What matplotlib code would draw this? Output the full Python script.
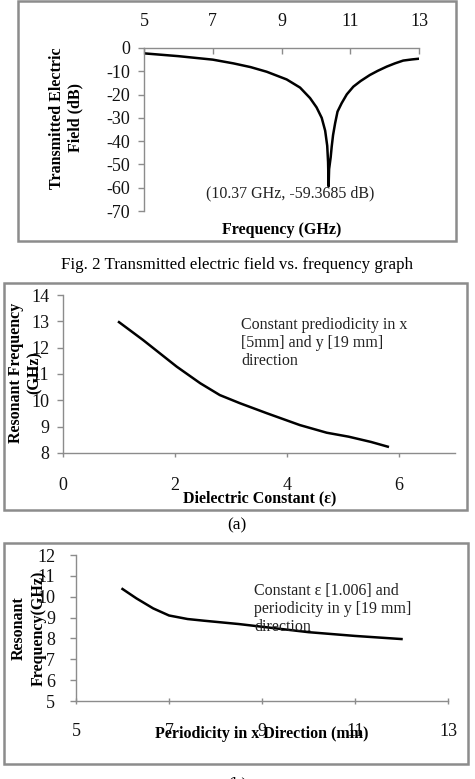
import matplotlib
matplotlib.use("Agg")
import matplotlib.pyplot as plt
from matplotlib.patches import Rectangle

plt.rcParams['font.family'] = ['Liberation Serif', 'DejaVu Serif']
plt.rcParams['axes.unicode_minus'] = False

W, H = 475, 779

# Fig. 2 - transmitted field vs frequency
freq_ghz = [5.0, 5.5, 6.0, 6.6, 7.0, 7.6, 8.1, 8.57, 9.15, 9.54, 9.83, 10.02, 10.17,
            10.27, 10.33, 10.355, 10.37, 10.385, 10.43, 10.46, 10.5, 10.56, 10.63,
            10.75, 10.9, 11.09, 11.3, 11.57, 11.8, 12.06, 12.3, 12.54, 12.8, 13.0]
field_db = [-2.3, -2.9, -3.5, -4.4, -5.0, -6.6, -8.2, -10.2, -13.5, -17.0, -21.5, -25.5, -30.0,
            -35.5, -42.0, -49.0, -59.3685, -52.0, -47.0, -42.4, -37.4, -32.3, -27.3,
            -23.7, -19.9, -16.6, -14.2, -11.6, -9.8, -8.0, -6.6, -5.4, -4.9, -4.6]

# (a) resonant frequency vs dielectric constant
eps = [1.0, 1.43, 2.03, 2.45, 2.8, 3.16, 3.64, 4.23, 4.71, 5.1, 5.5, 5.8]
res_a = [12.97, 12.29, 11.28, 10.65, 10.2, 9.89, 9.51, 9.06, 8.77, 8.62, 8.42, 8.24]

# (b) resonant frequency vs periodicity in x
per_x = [6.0, 6.3, 6.66, 7.0, 7.4, 7.75, 8.5, 9.0, 10.0, 11.0, 12.0]
res_b = [10.37, 9.92, 9.44, 9.1, 8.93, 8.85, 8.69, 8.56, 8.3, 8.12, 7.97]

grey = '#8c8c8c'
fig = plt.figure(figsize=(W / 100, H / 100), dpi=100)
fig.patch.set_facecolor('white')


def px_axes(x0, y0, x1, y1):
    return fig.add_axes([x0 / W, 1 - y1 / H, (x1 - x0) / W, (y1 - y0) / H])


def ftext(x, y, s, **kw):
    fig.text(x / W, 1 - y / H, s, **kw)


def frame(x0, y0, x1, y1):
    fig.add_artist(Rectangle((x0 / W, 1 - y1 / H), (x1 - x0) / W, (y1 - y0) / H,
                             transform=fig.transFigure, fill=False,
                             edgecolor=grey, linewidth=1.8))


def style(ax, xside):
    for s in ['top', 'bottom', 'right', 'left']:
        ax.spines[s].set_visible(False)
    ax.spines['left'].set_visible(True)
    ax.spines[xside].set_visible(True)
    for s in ['left', xside]:
        ax.spines[s].set_color(grey)
        ax.spines[s].set_linewidth(1.0)
    ax.tick_params(colors=grey, labelcolor='#111111', labelsize=13, width=1.0)
    ax.set_facecolor('none')


# ---- Fig. 2 ----
frame(18, 1, 456, 241)
ax1 = px_axes(144, 48, 419, 211)
ax1.plot(freq_ghz, field_db, color='black', lw=1.8)
ax1.set_xlim(5, 13)
ax1.set_ylim(-70, 0)
ax1.set_xticks([5, 7, 9, 11, 13])
ax1.set_yticks(range(-70, 1, 10))
style(ax1, 'top')
ax1.xaxis.tick_top()
ax1.tick_params(axis='x', direction='in', length=4, pad=13)
ax1.tick_params(axis='y', direction='out', length=4, pad=6)
# label sits a bit left of and below the dip, as in the source figure
ax1.text(9.25, -62.3, '(10.37 GHz, -59.3685 dB)', ha='center', va='center',
         fontsize=11.5, color='#222222')
ftext(282, 230, 'Frequency (GHz)', ha='center', va='center', fontsize=11.5, fontweight='bold')
ftext(66, 118, 'Transmitted Electric\nField (dB)', ha='center', va='center', rotation=90,
      fontsize=11.5, fontweight='bold', linespacing=1.15)
ftext(237, 265, 'Fig. 2 Transmitted electric field vs. frequency graph', ha='center',
      va='center', fontsize=12.2)

# ---- (a) ----
frame(4, 283, 467, 510)
ax2 = px_axes(63, 295, 455, 453)
ax2.plot(eps, res_a, color='black', lw=1.8)
ax2.set_xlim(0, 7)
ax2.set_ylim(8, 14)
ax2.set_xticks([0, 2, 4, 6])
ax2.set_yticks(range(8, 15))
style(ax2, 'bottom')
ax2.tick_params(axis='x', direction='out', length=3, pad=14)
ax2.tick_params(axis='y', direction='out', length=4, pad=6)
ftext(241, 343, 'Constant prediodicity in x\n[5mm] and y [19 mm]\ndirection', ha='left',
      va='center', fontsize=11.5, linespacing=1.15, color='#222222')
ftext(260, 498, 'Dielectric Constant (\u03b5)', ha='center', va='center', fontsize=11.5,
      fontweight='bold')
ftext(25, 373, 'Resonant Frequency\n(GHz)', ha='center', va='center', rotation=90,
      fontsize=11.5, fontweight='bold', linespacing=1.2)
ftext(237, 525, '(a)', ha='center', va='center', fontsize=12.5)

# ---- (b) ----
frame(4, 543, 468, 764)
ax3 = px_axes(76, 555, 448, 701)
ax3.plot(per_x, res_b, color='black', lw=1.8)
ax3.set_xlim(5, 13)
ax3.set_ylim(5, 12)
ax3.set_xticks([5, 7, 9, 11, 13])
ax3.set_yticks(range(5, 13))
style(ax3, 'bottom')
ax3.tick_params(axis='x', direction='inout', length=5, pad=13)
ax3.tick_params(axis='y', direction='out', length=4, pad=11)
ftext(254, 609, 'Constant \u03b5 [1.006] and\nperiodicity in y [19 mm]\ndirection', ha='left',
      va='center', fontsize=11.5, linespacing=1.15, color='#222222')
ftext(262, 734, 'Periodicity in x Direction (mm)', ha='center', va='center', fontsize=11.5,
      fontweight='bold')
ftext(29, 628, 'Resonant\nFrequency(GHz)', ha='center', va='center', rotation=90,
      fontsize=11.5, fontweight='bold', linespacing=1.3)
ftext(237, 784, '(b)', ha='center', va='center', fontsize=12.5)

fig.savefig('out.png', dpi=100)
